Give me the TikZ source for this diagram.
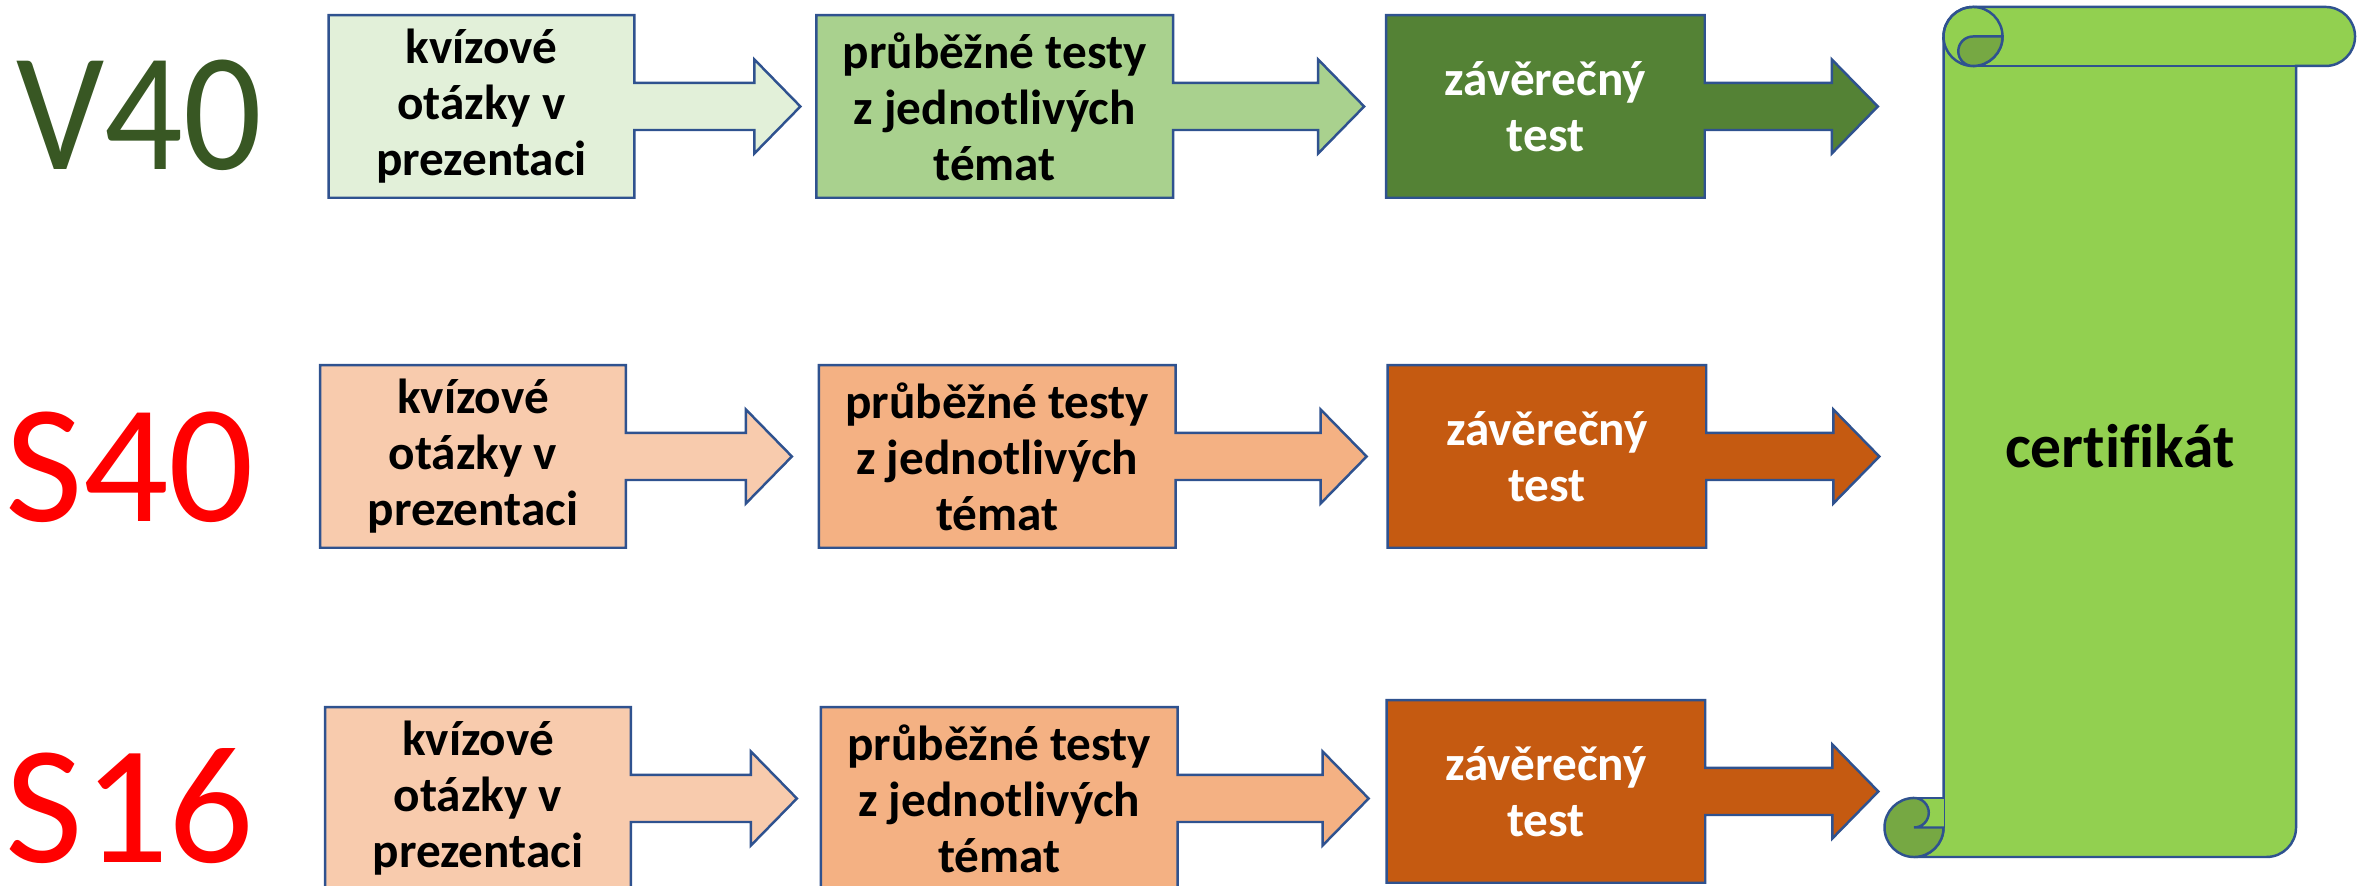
\documentclass[tikz,border=0pt]{standalone}
\usepackage{fontspec}
\setmainfont{Carlito}[Ligatures=NoCommon]
\usetikzlibrary{positioning,calc,backgrounds}

\definecolor{lineblue}{HTML}{2F528F}
\definecolor{vquiz}{HTML}{E2F0D9}
\definecolor{vtests}{HTML}{A9D18E}
\definecolor{vfinal}{HTML}{548235}
\definecolor{squiz}{HTML}{F8CBAD}
\definecolor{stests}{HTML}{F4B183}
\definecolor{sfinal}{HTML}{C55A11}
\definecolor{scrolllight}{HTML}{92D050}
\definecolor{scrolldark}{HTML}{76A843}
\definecolor{vlabel}{HTML}{385723}

% box with an arrow on its right side: node, fill, arrow length
\newcommand{\stepcallout}[3]{%
    \draw[boxline, fill=#2] (#1.north west) -- (#1.north east)
        -- ($(#1.east)+(0mm,2.35mm)$) -- ($(#1.east)+({#3-4.6mm},2.35mm)$)
        -- ($(#1.east)+({#3-4.6mm},4.7mm)$) -- ($(#1.east)+(#3,0mm)$)
        -- ($(#1.east)+({#3-4.6mm},-4.7mm)$) -- ($(#1.east)+({#3-4.6mm},-2.35mm)$)
        -- ($(#1.east)+(0mm,-2.35mm)$) -- (#1.south east) -- (#1.south west) -- cycle;}

\begin{document}
\begin{tikzpicture}[
        x=0.01cm, y=0.01cm,
        boxline/.style={draw=lineblue, line width=0.7pt},
        stepnode/.style={minimum height=1.81cm, inner sep=0pt, align=center,
            font=\bfseries\fontsize{14}{15.9}\selectfont},
        quizbox/.style={stepnode, minimum width=3.04cm},
        testbox/.style={stepnode, minimum width=3.55cm},
        finalbox/.style={stepnode, minimum width=3.17cm, text=white},
        courselabel/.style={font=\fontsize{48}{50}\selectfont},
    ]
    \useasboundingbox (0,0) rectangle (2364,886);

    % course names
    \node[courselabel, text=vlabel] (v40) at (139,771) {\scalebox{0.92}[1]{V40}};
    \node[courselabel, text=red] (s40) at (130,419) {S40};
    \node[courselabel, text=red] (s16) at (130,80) {S16};

    % V40
    \node[quizbox] (v40quiz) at (481.5,779.5) {kvízové\\otázky v\\prezentaci};
    \node[testbox, right=1.82cm of v40quiz] (v40tests) {průběžné testy\\z jednotlivých\\témat};
    \node[finalbox, right=2.13cm of v40tests] (v40final) {závěrečný\\test};

    % S40
    \node[quizbox] (s40quiz) at (473,429.5) {kvízové\\otázky v\\prezentaci};
    \node[testbox, right=1.93cm of s40quiz] (s40tests) {průběžné testy\\z jednotlivých\\témat};
    \node[finalbox, right=2.12cm of s40tests] (s40final) {závěrečný\\test};

    % S16
    \node[quizbox] (s16quiz) at (478,87.5) {kvízové\\otázky v\\prezentaci};
    \node[testbox, right=1.90cm of s16quiz] (s16tests) {průběžné testy\\z jednotlivých\\témat};
    \node[finalbox, right=2.09cm of s16tests, yshift=0.7mm] (s16final) {závěrečný\\test};

    \begin{scope}[on background layer]
        \stepcallout{v40quiz}{vquiz}{16.6mm}
        \stepcallout{v40tests}{vtests}{19.1mm}
        \stepcallout{v40final}{vfinal}{17.3mm}
        \stepcallout{s40quiz}{squiz}{16.6mm}
        \stepcallout{s40tests}{stests}{19.1mm}
        \stepcallout{s40final}{sfinal}{17.3mm}
        \stepcallout{s16quiz}{squiz}{16.6mm}
        \stepcallout{s16tests}{stests}{19.1mm}
        \stepcallout{s16final}{sfinal}{17.3mm}
    \end{scope}

    % scroll
    \draw[boxline, fill=scrolllight] (1943.5,849.5) -- (1943.5,58.5)
        arc[start angle=0, end angle=-90, radius=0.295cm] -- (2266.5,29)
        arc[start angle=-90, end angle=0, radius=0.295cm] -- (2296,820) -- (2325.5,820)
        arc[start angle=-90, end angle=90, radius=0.295cm] -- (1973,879)
        arc[start angle=90, end angle=180, radius=0.295cm] -- cycle;
    \fill[scrolllight] (1914,58.5) rectangle (1943.5,88);
    \draw[boxline] (1914,88) -- (1943.5,88);
    \draw[boxline, fill=scrolldark] (1914,88)
        arc[start angle=90, end angle=360, radius=0.295cm] -- (1914,58.5)
        arc[start angle=-90, end angle=90, radius=0.1475cm] -- cycle;
    \draw[boxline] (1973,849.5) circle[radius=0.295cm];
    \draw[boxline] (1973,820) -- (2296,820);
    \draw[boxline, fill=scrolldark] (1973,820)
        arc[start angle=-90, end angle=0, radius=0.295cm] -- (1973,849.5)
        arc[start angle=90, end angle=270, radius=0.1475cm] -- cycle;

    \node[font=\bfseries\fontsize{17.5}{20}\selectfont, anchor=base] (cert) at (2120,418) {certifikát};
\end{tikzpicture}
\end{document}
